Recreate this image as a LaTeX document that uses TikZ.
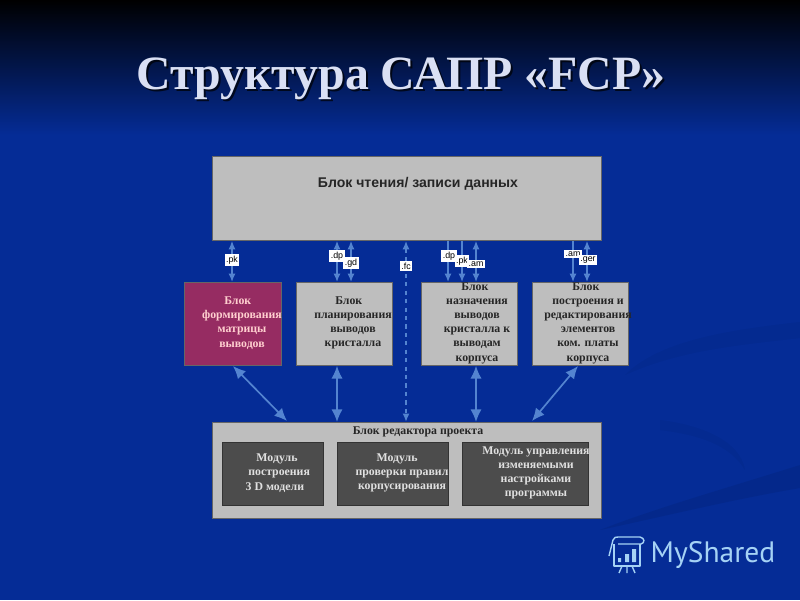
\documentclass[tikz,border=0pt]{standalone}
\usepackage{fontspec}
\setmainfont{Liberation Serif}
\setsansfont{Liberation Sans}
\newfontfamily\logofont{PT Sans}
\usetikzlibrary{arrows.meta}
\definecolor{slideblue}{RGB}{5,44,150}
\definecolor{panelgray}{RGB}{190,190,190}
\definecolor{modulegray}{RGB}{76,76,76}
\definecolor{plum}{RGB}{150,44,98}
\definecolor{linkblue}{RGB}{84,132,208}
\definecolor{logoblue}{RGB}{165,210,245}
\definecolor{titlewhite}{RGB}{218,224,244}
\tikzset{
  panel/.style={draw=black!60, fill=panelgray, line width=0.6pt, inner sep=0pt, anchor=north west},
  module/.style={panel, draw=black!80, fill=modulegray},
  blocktext/.style={font=\bfseries\fontsize{8.4}{10.1}\selectfont, align=center, text=black!85},
  paletext/.style={blocktext, text=black!12},
  ext/.style={fill=white, font=\sffamily\fontsize{6.3}{7}\selectfont, inner xsep=1pt, inner ysep=1pt, text=black},
  thinlink/.style={draw=linkblue, line width=1pt, {Latex[length=6pt,width=5pt]}-{Latex[length=6pt,width=5pt]}},
  downlink/.style={draw=linkblue, line width=1pt, -{Latex[length=6pt,width=5pt]}},
  widelink/.style={draw=linkblue, line width=1.2pt, {Latex[length=9pt,width=8pt]}-{Latex[length=9pt,width=8pt]}},
}
\begin{document}
\begin{tikzpicture}[x=0.025cm,y=-0.025cm]
  % background
  \useasboundingbox (0,0) rectangle (800,600);
  \fill[slideblue] (0,0) rectangle (800,600);
  \shade[top color=black, bottom color=slideblue] (0,0) rectangle (800,135);
  \fill[black, opacity=0.07] (800,465) .. controls (720,490) and (650,510) .. (600,530) .. controls (670,515) and (730,500) .. (800,488) -- cycle;
  \fill[black, opacity=0.04] (800,322) .. controls (730,330) and (660,340) .. (625,375) .. controls (680,350) and (740,345) .. (800,338) -- cycle;
  \fill[black, opacity=0.04] (660,420) .. controls (700,425) and (740,440) .. (745,470) .. controls (730,445) and (700,435) .. (660,430) -- cycle;

  % title
  \node[font=\bfseries\fontsize{34}{34}\selectfont, text=black, opacity=0.7] at (403,81) {Структура САПР «FCP»};
  \node[font=\bfseries\fontsize{34}{34}\selectfont, text=titlewhite] (title) at (401,79) {Структура САПР «FCP»};

  % blocks
  \node[panel, minimum width=389*0.025cm, minimum height=84*0.025cm] (read) at (212,156) {};
  \node[panel, fill=plum, minimum width=97*0.025cm, minimum height=83*0.025cm] (form) at (184,282) {};
  \node[panel, minimum width=96*0.025cm, minimum height=83*0.025cm] (plan) at (296,282) {};
  \node[panel, minimum width=96*0.025cm, minimum height=83*0.025cm] (assign) at (421,282) {};
  \node[panel, minimum width=96*0.025cm, minimum height=83*0.025cm] (build) at (532,282) {};
  \node[panel, minimum width=389*0.025cm, minimum height=96*0.025cm] (editor) at (212,422) {};
  \node[module, minimum width=101*0.025cm, minimum height=63*0.025cm] (geom) at (222,442) {};
  \node[module, minimum width=111*0.025cm, minimum height=63*0.025cm] (rules) at (337,442) {};
  \node[module, minimum width=126*0.025cm, minimum height=63*0.025cm] (setup) at (462,442) {};

  % arrow positions
  \coordinate (xpk) at (232,0);
  \coordinate (xdp) at (337,0);
  \coordinate (xgd) at (351,0);
  \coordinate (xfc) at (406,0);
  \coordinate (xdpb) at (448,0);
  \coordinate (xpkb) at (462,0);
  \coordinate (xam) at (476,0);
  \coordinate (xamb) at (573,0);
  \coordinate (xger) at (587,0);

  \draw[thinlink] (read.south -| xpk) -- (form.north -| xpk);
  \draw[thinlink] (read.south -| xdp) -- (plan.north -| xdp);
  \draw[thinlink] (read.south -| xgd) -- (plan.north -| xgd);
  \draw[thinlink, line width=1.2pt, dashed] (read.south -| xfc) -- (editor.north -| xfc);
  \draw[downlink] (read.south -| xdpb) -- (assign.north -| xdpb);
  \draw[downlink] (read.south -| xpkb) -- (assign.north -| xpkb);
  \draw[thinlink] (read.south -| xam) -- (assign.north -| xam);
  \draw[downlink] (read.south -| xamb) -- (build.north -| xamb);
  \draw[thinlink] (read.south -| xger) -- (build.north -| xger);

  \coordinate (lowa) at (233,366);
  \coordinate (lowb) at (287,421);
  \coordinate (lowc) at (578,366);
  \coordinate (lowd) at (532,421);
  \draw[widelink] (lowa) -- (lowb);
  \draw[widelink] (plan.south -| xdp) -- (editor.north -| xdp);
  \draw[widelink] (assign.south -| xam) -- (editor.north -| xam);
  \draw[widelink] (lowc) -- (lowd);

  % file types
  \node[ext] (pk) at (232,260) {.pk};
  \node[ext] (dp) at (337,256) {.dp};
  \node[ext] (gd) at (351,263) {.gd};
  \node[ext] (fc) at (406,266) {.fc};
  \node[ext] (dpb) at (449,256) {.dp};
  \node[ext] (pkb) at (462,261) {.pk};
  \node[ext] (am) at (476,264) {.am};
  \node[ext] (amb) at (573,254) {.am};
  \node[ext] (ger) at (588,260) {.ger};

  % texts
  \node[font=\sffamily\bfseries\fontsize{10}{11}\selectfont, text=black!85] (readtext) at (418,184) {Блок чтения/ записи данных};
  \node[paletext, text=pink!75] (formtext) at (242,323) {Блок\hspace*{6pt}\\формирования\\матрицы\\выводов};
  \node[blocktext] (plantext) at (353,323) {Блок\hspace*{6pt}\\планирования\\выводов\\кристалла};
  \node[blocktext] (assigntext) at (477,323) {Блок\hspace*{3pt}\\назначения\\выводов\\кристалла к\\выводам\\корпуса};
  \node[blocktext] (buildtext) at (588,323) {Блок\hspace*{3pt}\\построения и\\редактирования\\элементов\\ком. платы\\корпуса};
  \node[blocktext] (editortext) at (418,432) {Блок редактора проекта};
  \node[paletext] (geomtext) at (277,473) {Модуль\\\hspace*{3pt}построения\\3 D модели\hspace*{3pt}};
  \node[paletext] (rulestext) at (402,473) {Модуль\hspace*{7pt}\\проверки правил\\корпусирования};
  \node[paletext] (setuptext) at (536,473) {Модуль управления\\изменяемыми\\настройками\\программы};

  % logo
  \node[font=\logofont\fontsize{21}{21}\selectfont, text=logoblue] (logo) at (713,555) {MyShared};
  \draw[logoblue, line width=1pt, line join=round] (614,544) -- (614,566) -- (640,566) -- (640,544);
  \draw[logoblue, line width=1pt, line join=round] (609,556) -- (613,540) .. controls (614,537) and (616,537) .. (618,537) -- (640,537) .. controls (645,538) and (645,543) .. (641,544) -- (618,544);
  \fill[logoblue] (618,558) rectangle (621,562) (625,554) rectangle (629,562) (632,549) rectangle (636,562);
  \draw[logoblue, line width=1pt] (622,566) -- (619,573) (627,566) -- (627,573) (632,566) -- (635,573);
\end{tikzpicture}
\end{document}
